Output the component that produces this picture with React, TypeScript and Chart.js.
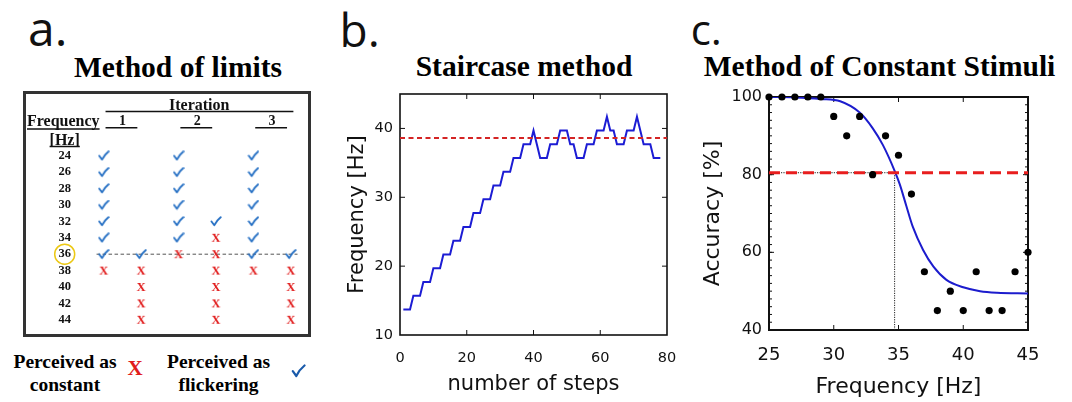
import React, { useEffect, useRef } from "react";
import { Chart, registerables } from "chart.js";

Chart.register(...registerables);

const SANS = "'DejaVu Sans', Verdana, sans-serif";
const SERIF = "'Liberation Serif', 'Times New Roman', serif";
const LABEL_FONT = "'Open Sans', 'Liberation Sans', sans-serif";

// ---------- Panel a: method of limits ----------
const LIMIT_FREQS = [24, 26, 28, 30, 32, 34, 36, 38, 40, 42, 44];
const LIMIT_COLUMNS = [1, 2, 3, 4, 5, 6];
const ITERATION_LABELS = ["1", "2", "3"];
const FLICKER_BY_COLUMN = [
  [24, 26, 28, 30, 32, 34, 36],
  [36],
  [24, 26, 28, 30, 32, 34],
  [32],
  [24, 26, 28, 30, 32, 34, 36],
  [36],
];
const CONSTANT_BY_COLUMN = [
  [38],
  [38, 40, 42, 44],
  [36],
  [34, 36, 38, 40, 42, 44],
  [38],
  [38, 40, 42, 44],
];
const LIMIT_THRESHOLD = 36;

// ---------- Panel b: staircase ----------
const STAIR_STEPS = [
  1, 2, 3, 4, 5, 6, 7, 8, 9, 10, 11, 12, 13, 14, 15, 16, 17, 18, 19, 20,
  21, 22, 23, 24, 25, 26, 27, 28, 29, 30, 31, 32, 33, 34, 35, 36, 37, 38, 39, 40,
  41, 42, 43, 44, 45, 46, 47, 48, 49, 50, 51, 52, 53, 54, 55, 56, 57, 58, 59, 60,
  61, 62, 63, 64, 65, 66, 67, 68, 69, 70, 71, 72, 73, 74, 75, 76, 77, 78,
];
const STAIR_FREQ = [
  13.7, 13.7, 13.7, 15.7, 15.7, 15.7, 17.7, 17.7, 17.7, 19.7, 19.7, 19.7,
  21.7, 21.7, 21.7, 23.7, 23.7, 23.7, 25.7, 25.7, 25.7, 27.7, 27.7, 27.7,
  29.7, 29.7, 29.7, 31.7, 31.7, 31.7, 33.7, 33.7, 33.7, 35.7, 35.7, 35.7,
  37.7, 37.7, 37.7, 39.7, 37.7, 35.7, 35.7, 35.7, 37.7, 37.7, 37.7,
  39.7, 39.7, 39.7, 37.7, 37.7, 35.7, 35.7, 35.7, 37.7, 37.7, 37.7,
  39.7, 39.7, 39.7, 41.7, 39.7, 39.7, 37.7, 37.7, 37.7, 39.7, 39.7, 39.7,
  41.7, 39.7, 37.7, 37.7, 37.7, 35.7, 35.7, 35.7,
];
const STAIR_THRESHOLD = 38.6;
const STAIR_X_TICKS = [0, 20, 40, 60, 80];
const STAIR_Y_TICKS = [10, 20, 30, 40];

// ---------- Panel c: constant stimuli ----------
const CS_FREQ = [25, 26, 27, 28, 29, 30, 31, 32, 33, 34, 35, 36, 37, 38, 39, 40, 41, 42, 43, 44, 45];
const CS_ACC = [100, 100, 100, 100, 100, 95, 90, 95, 80, 90, 85, 75, 55, 45, 50, 45, 55, 45, 45, 55, 60];
const CS_FIT_FREQ = [25, 27, 29, 30.5, 32, 33, 33.8, 34.7, 35.1, 35.6, 36.1, 36.9, 37.7, 38.7, 40, 41.3, 42.6, 45];
const CS_FIT_ACC = [100, 99.9, 99.5, 98.9, 96, 92, 87.6, 81, 77.5, 72, 66.6, 60.6, 56.3, 52.9, 51, 50, 49.6, 49.4];
const CS_CRITERION = 80.5;
const CS_THRESHOLD_FREQ = 34.7;
const CS_X_TICKS = [25, 30, 35, 40, 45];
const CS_Y_TICKS = [40, 60, 80, 100];

// ---------- helpers ----------
function makeCheck(): HTMLCanvasElement {
  const c = document.createElement("canvas");
  c.width = 12;
  c.height = 11;
  const g = c.getContext("2d")!;
  g.strokeStyle = "rgb(35,110,195)";
  g.lineWidth = 1.8;
  g.lineCap = "round";
  g.lineJoin = "round";
  g.beginPath();
  g.moveTo(1.5, 5.5);
  g.lineTo(4.3, 9.3);
  g.quadraticCurveTo(6.8, 4.5, 10.8, 1.3);
  g.stroke();
  return c;
}

function makeCross(): HTMLCanvasElement {
  const c = document.createElement("canvas");
  c.width = 12;
  c.height = 12;
  const g = c.getContext("2d")!;
  g.fillStyle = "rgb(225,28,28)";
  g.font = `bold 12.5px ${SERIF}`;
  g.textAlign = "center";
  g.textBaseline = "middle";
  g.fillText("X", 6, 6.6);
  return c;
}

function fixedScale(size: { width?: number; height?: number }) {
  return (s: any) => {
    if (size.width !== undefined) s.width = size.width;
    if (size.height !== undefined) s.height = size.height;
    s.paddingTop = 0;
    s.paddingBottom = 0;
    s.paddingLeft = 0;
    s.paddingRight = 0;
  };
}

function ticksFrom(values: number[]) {
  return (s: any) => {
    s.ticks = values.map((v) => ({ value: v }));
  };
}

function framePlugin(opts: { width: number; len: number; minorX?: number; minorY?: number; minorLen?: number }) {
  return {
    id: "frame",
    beforeDatasetsDraw(chart: any) {
      const { ctx, chartArea: a, scales } = chart;
      const x = scales.x;
      const y = scales.y;
      ctx.save();
      ctx.strokeStyle = "#111";
      ctx.lineWidth = 1;
      const tickX = (v: number, len: number) => {
        const p = x.getPixelForValue(v);
        ctx.beginPath();
        ctx.moveTo(p, a.bottom);
        ctx.lineTo(p, a.bottom - len);
        ctx.moveTo(p, a.top);
        ctx.lineTo(p, a.top + len);
        ctx.stroke();
      };
      const tickY = (v: number, len: number) => {
        const p = y.getPixelForValue(v);
        ctx.beginPath();
        ctx.moveTo(a.left, p);
        ctx.lineTo(a.left + len, p);
        ctx.moveTo(a.right, p);
        ctx.lineTo(a.right - len, p);
        ctx.stroke();
      };
      if (opts.minorX) for (let v = x.min + opts.minorX; v < x.max - 1e-6; v += opts.minorX) tickX(v, opts.minorLen || 3);
      if (opts.minorY) for (let v = y.min + opts.minorY; v < y.max - 1e-6; v += opts.minorY) tickY(v, opts.minorLen || 3);
      x.ticks.forEach((t: any) => {
        if (t.value > x.min && t.value < x.max) tickX(t.value, opts.len);
      });
      y.ticks.forEach((t: any) => {
        if (t.value > y.min && t.value < y.max) tickY(t.value, opts.len);
      });
      ctx.lineWidth = opts.width;
      ctx.strokeRect(a.left, a.top, a.right - a.left, a.bottom - a.top);
      ctx.restore();
    },
  };
}

// ---------- chart builders ----------
const LIMIT_Y_TICK_PAD = 17.7;

const limitsHeader = {
  id: "limitsHeader",
  afterDraw(chart: any) {
    const { ctx, scales, chartArea } = chart;
    const x = scales.x;
    const y = scales.y;
    const first = LIMIT_COLUMNS[0];
    const last = LIMIT_COLUMNS[LIMIT_COLUMNS.length - 1];
    const hline = (x0: number, x1: number, yy: number) => {
      ctx.beginPath();
      ctx.moveTo(x0, yy);
      ctx.lineTo(x1, yy);
      ctx.stroke();
    };
    ctx.save();
    ctx.fillStyle = "#111";
    ctx.strokeStyle = "#111";
    ctx.textBaseline = "alphabetic";
    ctx.lineWidth = 1.5;
    ctx.font = `bold 16px ${SERIF}`;
    ctx.textAlign = "center";
    ctx.fillText("Iteration", x.getPixelForValue((first + last) / 2) + 2, 16.5);
    hline(x.getPixelForValue(first + 0.05), x.getPixelForValue(last + 0.07), 18.5);
    ctx.font = `bold 14px ${SERIF}`;
    ITERATION_LABELS.forEach((lab, i) => {
      const c = LIMIT_COLUMNS[i * 2];
      ctx.fillText(lab, x.getPixelForValue(c + 0.5), 32);
      hline(x.getPixelForValue(c + 0.05), x.getPixelForValue(c + 0.9), 34.7);
    });
    ctx.font = `bold 16px ${SERIF}`;
    ctx.textAlign = "left";
    ctx.fillText("Frequency", 1, 32.7);
    const fw = ctx.measureText("Frequency").width;
    hline(1, 1 + fw, 36);
    const labX = chartArea.left - LIMIT_Y_TICK_PAD - 6.3;
    ctx.textAlign = "center";
    ctx.fillText("[Hz]", labX, 51.5);
    const hw = ctx.measureText("[Hz]").width;
    hline(labX - hw / 2, labX + hw / 2, 53.5);
    ctx.strokeStyle = "rgb(236,200,20)";
    ctx.lineWidth = 1.5;
    ctx.beginPath();
    ctx.arc(labX, y.getPixelForValue(LIMIT_THRESHOLD), 10, 0, Math.PI * 2);
    ctx.stroke();
    ctx.restore();
  },
};

function buildLimits(cv: HTMLCanvasElement) {
  const checkPts: { x: number; y: number }[] = [];
  const crossPts: { x: number; y: number }[] = [];
  LIMIT_COLUMNS.forEach((col, i) => {
    FLICKER_BY_COLUMN[i].forEach((f) => checkPts.push({ x: col, y: f }));
    CONSTANT_BY_COLUMN[i].forEach((f) => crossPts.push({ x: col, y: f }));
  });
  const first = LIMIT_COLUMNS[0];
  const last = LIMIT_COLUMNS[LIMIT_COLUMNS.length - 1];
  return new Chart(cv, {
    type: "scatter",
    data: {
      datasets: [
        {
          label: "threshold",
          data: [
            { x: first - 0.19, y: LIMIT_THRESHOLD },
            { x: last + 0.18, y: LIMIT_THRESHOLD },
          ],
          showLine: true,
          borderColor: "#555",
          borderWidth: 1,
          borderDash: [3.5, 2.5],
          pointRadius: 0,
          order: 3,
        },
        { label: "flickering", data: checkPts, pointStyle: makeCheck(), pointRadius: 5, order: 1, clip: false } as any,
        { label: "constant", data: crossPts, pointStyle: makeCross(), pointRadius: 5, order: 1, clip: false } as any,
      ],
    },
    options: {
      responsive: false,
      animation: false,
      events: [],
      layout: { padding: { left: 0, top: 54.6, right: 1.6, bottom: 2.1 } },
      plugins: { legend: { display: false }, tooltip: { enabled: false } },
      scales: {
        x: { type: "linear", min: 0.6, max: 6.3, display: false },
        y: {
          type: "linear",
          min: 23,
          max: 45,
          reverse: true,
          afterBuildTicks: ticksFrom(LIMIT_FREQS),
          afterFit: fixedScale({ width: 62.7 }),
          grid: { display: false, drawTicks: false },
          border: { display: false },
          ticks: { padding: LIMIT_Y_TICK_PAD, color: "#111", font: { family: SERIF, weight: "bold", size: 12.5 } },
        },
      },
    } as any,
    plugins: [limitsHeader],
  });
}

function buildStaircase(cv: HTMLCanvasElement) {
  return new Chart(cv, {
    type: "scatter",
    data: {
      datasets: [
        {
          label: "staircase",
          data: STAIR_STEPS.map((s, i) => ({ x: s, y: STAIR_FREQ[i] })),
          showLine: true,
          borderColor: "rgb(28,28,212)",
          borderWidth: 2,
          pointRadius: 0,
          tension: 0,
          order: 2,
        },
        {
          label: "threshold",
          data: [
            { x: STAIR_X_TICKS[0], y: STAIR_THRESHOLD },
            { x: STAIR_X_TICKS[STAIR_X_TICKS.length - 1], y: STAIR_THRESHOLD },
          ],
          showLine: true,
          borderColor: "rgb(212,36,36)",
          borderWidth: 2,
          borderDash: [5, 3.5],
          pointRadius: 0,
          order: 1,
        },
      ],
    },
    options: {
      responsive: false,
      animation: false,
      events: [],
      layout: { padding: { left: 0, top: 9, right: 18, bottom: 0 } },
      plugins: { legend: { display: false }, tooltip: { enabled: false } },
      scales: {
        x: {
          type: "linear",
          min: 0,
          max: 80,
          afterBuildTicks: ticksFrom(STAIR_X_TICKS),
          afterFit: fixedScale({ height: 67 }),
          grid: { display: false, drawTicks: false },
          border: { display: false },
          ticks: { padding: 14.5, color: "#111", maxRotation: 0, autoSkip: false, font: { family: SANS, size: 14.5 } },
          title: { display: true, text: "number of steps", color: "#111", font: { family: SANS, size: 21 }, padding: { top: 0, bottom: 4.4 } },
        },
        y: {
          type: "linear",
          min: 10,
          max: 45,
          afterBuildTicks: ticksFrom(STAIR_Y_TICKS),
          afterFit: fixedScale({ width: 60 }),
          grid: { display: false, drawTicks: false },
          border: { display: false },
          ticks: { padding: 7, color: "#111", font: { family: SANS, size: 14.5 } },
          title: { display: true, text: "Frequency [Hz]", color: "#111", font: { family: SANS, size: 21 }, padding: { top: 5.4, bottom: 0 } },
        },
      },
    } as any,
    plugins: [framePlugin({ width: 1.6, len: 5 })],
  });
}

function buildConstant(cv: HTMLCanvasElement) {
  return new Chart(cv, {
    type: "scatter",
    data: {
      datasets: [
        {
          label: "responses",
          data: CS_FREQ.map((f, i) => ({ x: f, y: CS_ACC[i] })),
          pointRadius: 3.6,
          backgroundColor: "#000",
          borderWidth: 0,
          order: 1,
          clip: false,
        } as any,
        {
          label: "criterion",
          data: [
            { x: CS_X_TICKS[0], y: CS_CRITERION },
            { x: CS_X_TICKS[CS_X_TICKS.length - 1], y: CS_CRITERION },
          ],
          showLine: true,
          borderColor: "rgb(232,30,30)",
          borderWidth: 3,
          borderDash: [11, 6],
          pointRadius: 0,
          order: 2,
        },
        {
          label: "fit",
          data: CS_FIT_FREQ.map((f, i) => ({ x: f, y: CS_FIT_ACC[i] })),
          showLine: true,
          borderColor: "rgb(28,28,205)",
          borderWidth: 2,
          pointRadius: 0,
          cubicInterpolationMode: "monotone",
          order: 3,
        },
        {
          label: "guide-h",
          data: [
            { x: CS_X_TICKS[0], y: CS_CRITERION },
            { x: CS_THRESHOLD_FREQ, y: CS_CRITERION },
          ],
          showLine: true,
          borderColor: "#222",
          borderWidth: 1,
          borderDash: [1.2, 1.2],
          pointRadius: 0,
          order: 4,
        },
        {
          label: "guide-v",
          data: [
            { x: CS_THRESHOLD_FREQ, y: CS_Y_TICKS[0] },
            { x: CS_THRESHOLD_FREQ, y: CS_CRITERION },
          ],
          showLine: true,
          borderColor: "#222",
          borderWidth: 1,
          borderDash: [1.2, 1.2],
          pointRadius: 0,
          order: 4,
        },
      ],
    },
    options: {
      responsive: false,
      animation: false,
      events: [],
      layout: { padding: { left: 0, top: 12, right: 44, bottom: 0 } },
      plugins: { legend: { display: false }, tooltip: { enabled: false } },
      scales: {
        x: {
          type: "linear",
          min: 25,
          max: 45,
          afterBuildTicks: ticksFrom(CS_X_TICKS),
          afterFit: fixedScale({ height: 72 }),
          grid: { display: false, drawTicks: false },
          border: { display: false },
          ticks: { padding: 15, color: "#111", maxRotation: 0, autoSkip: false, font: { family: SANS, size: 18 } },
          title: { display: true, text: "Frequency [Hz]", color: "#111", font: { family: SANS, size: 22 }, padding: { top: 0, bottom: 1.8 } },
        },
        y: {
          type: "linear",
          min: 40,
          max: 100,
          afterBuildTicks: ticksFrom(CS_Y_TICKS),
          afterFit: fixedScale({ width: 79 }),
          grid: { display: false, drawTicks: false },
          border: { display: false },
          ticks: { padding: 7, color: "#111", font: { family: SANS, size: 16 } },
          title: { display: true, text: "Accuracy [%]", color: "#111", font: { family: SANS, size: 22 }, padding: { top: 10.3, bottom: 0 } },
        },
      },
    } as any,
    plugins: [framePlugin({ width: 2, len: 5, minorY: 2, minorLen: 3 })],
  });
}

// ---------- components ----------
function ChartBox(props: { left: number; top: number; width: number; height: number; build: (c: HTMLCanvasElement) => Chart }) {
  const ref = useRef<HTMLCanvasElement | null>(null);
  const { left, top, width, height, build } = props;
  useEffect(() => {
    if (!ref.current) return;
    const chart = build(ref.current);
    return () => chart.destroy();
  }, [build]);
  return (
    <canvas
      ref={ref}
      width={width}
      height={height}
      style={{ position: "absolute", left, top, width, height, display: "block" }}
    />
  );
}

function PanelLabel(props: { text: string; left: number; top: number; size: number }) {
  return (
    <div
      style={{
        position: "absolute",
        left: props.left,
        top: props.top,
        fontFamily: LABEL_FONT,
        fontSize: props.size,
        lineHeight: `${props.size}px`,
        color: "#111",
        whiteSpace: "nowrap",
      }}
    >
      {props.text}
    </div>
  );
}

function PanelTitle(props: { text: string; cx: number; top: number }) {
  return (
    <div
      style={{
        position: "absolute",
        left: props.cx - 250,
        width: 500,
        top: props.top,
        textAlign: "center",
        fontFamily: SERIF,
        fontWeight: "bold",
        fontSize: 29.5,
        lineHeight: "29.5px",
        color: "#000",
        whiteSpace: "nowrap",
      }}
    >
      {props.text}
    </div>
  );
}

function LegendText(props: { left: number; lines: string[] }) {
  return (
    <div
      style={{
        position: "absolute",
        left: props.left,
        width: 130,
        top: 350.4,
        textAlign: "center",
        fontFamily: SERIF,
        fontWeight: "bold",
        fontSize: 19.5,
        lineHeight: "23px",
        color: "#000",
        whiteSpace: "nowrap",
      }}
    >
      {props.lines.map((l, i) => (
        <div key={i}>{l}</div>
      ))}
    </div>
  );
}

export default function App() {
  return (
    <div
      style={{
        position: "absolute",
        left: 0,
        top: 0,
        width: 1072,
        height: 402,
        background: "#fff",
        overflow: "hidden",
      }}
    >
      <PanelLabel text="a." left={28} top={4} size={48} />
      <PanelLabel text="b." left={339.5} top={6.2} size={46} />
      <PanelLabel text="c." left={690.7} top={7.7} size={42} />

      <PanelTitle text="Method of limits" cx={178} top={53.3} />
      <PanelTitle text="Staircase method" cx={524} top={52} />
      <PanelTitle text="Method of Constant Stimuli" cx={879.5} top={52} />

      <div
        style={{
          position: "absolute",
          left: 23,
          top: 90.5,
          width: 288,
          height: 246.5,
          border: "3px solid #333",
          boxSizing: "border-box",
        }}
      />
      <ChartBox left={26} top={93} width={282} height={241} build={buildLimits} />

      <LegendText left={0} lines={["Perceived as", "constant"]} />
      <div
        style={{
          position: "absolute",
          left: 120,
          width: 30,
          top: 358.4,
          textAlign: "center",
          fontFamily: SERIF,
          fontWeight: "bold",
          fontSize: 21,
          lineHeight: "21px",
          color: "rgb(225,28,28)",
        }}
      >
        X
      </div>
      <LegendText left={153.5} lines={["Perceived as", "flickering"]} />
      <svg style={{ position: "absolute", left: 291, top: 364 }} width={15} height={14} viewBox="0 0 15 14">
        <path
          d="M1.8 7.2 L5.3 12 Q8.5 5.5 13.5 1.5"
          fill="none"
          stroke="rgb(25,90,170)"
          strokeWidth={2.2}
          strokeLinecap="round"
          strokeLinejoin="round"
        />
      </svg>

      <ChartBox left={340} top={85} width={345} height={317} build={buildStaircase} />
      <ChartBox left={690} top={85} width={382} height={317} build={buildConstant} />
    </div>
  );
}
